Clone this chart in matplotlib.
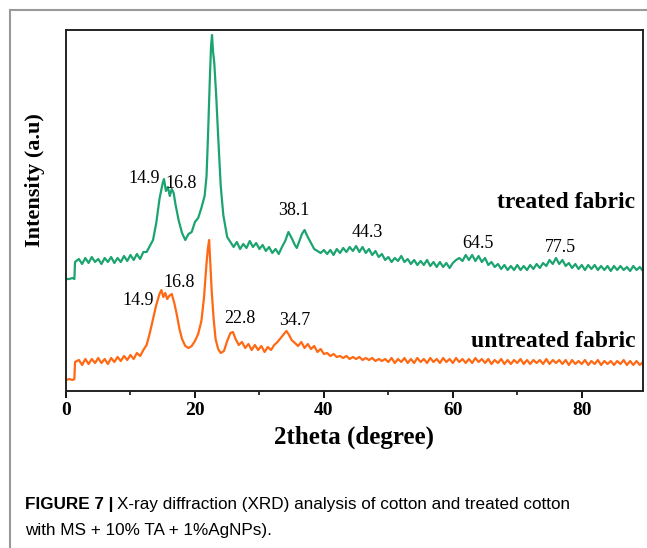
import matplotlib
matplotlib.use('Agg')
import matplotlib.pyplot as plt
from matplotlib.lines import Line2D
from matplotlib.ticker import MultipleLocator

#Setting fonts
serif = 'Liberation Serif'
sans = 'Liberation Sans'

#Diffraction data read from the pattern (intensity in arbitrary units).
#Low angle part, sampled finer around the peaks.
treated_head_2theta = [0.0, 0.5, 1.0, 1.3, 1.4, 2.0, 2.5, 3.0, 3.5, 4.0,
	4.5, 5.0, 5.5, 6.0, 6.5, 7.0, 7.5, 8.0, 8.5, 9.0,
	9.5, 10.0, 10.5, 11.0, 11.5, 12.0, 12.5, 13.0, 13.5, 14.0,
	14.5, 15.0, 15.2, 15.5, 15.8, 16.1, 16.4, 16.7, 17.0, 17.5,
	18.0, 18.5, 19.0, 19.5, 20.0, 20.5, 21.0, 21.5, 21.8, 22.0,
	22.3, 22.5, 22.65, 22.8, 23.0, 23.3, 23.6, 24.0, 24.4, 25.0,
	25.5, 26.0, 26.5, 27.0, 27.5, 28.0, 28.5, 29.0, 29.5, 30.0,
	30.5, 31.0, 31.5, 32.0, 32.5, 33.0, 33.5, 34.0, 34.5, 35.0,
	35.5, 35.8, 36.2, 36.6, 37.0, 37.5, 38.0, 38.5, 39.0, 39.5]
treated_head = [112, 112, 113, 112, 129, 132, 127, 133, 128, 134,
	129, 132, 127, 133, 129, 134, 128, 133, 129, 135,
	130, 136, 131, 137, 132, 139, 139, 145, 151, 168,
	192, 208, 212, 200, 204, 195, 202, 198, 186, 170,
	158, 151, 157, 159, 169, 173, 183, 195, 215, 250,
	310, 345, 356, 340, 328, 295, 255, 205, 176, 154,
	149, 144, 149, 142, 147, 143, 150, 144, 148, 142,
	146, 140, 144, 138, 142, 137, 144, 150, 159, 153,
	146, 143, 150, 157, 161, 154, 148, 142, 140, 138]

untreated_head_2theta = [0.0, 0.5, 1.0, 1.3, 1.4, 2.0, 2.5, 3.0, 3.5, 4.0,
	4.5, 5.0, 5.5, 6.0, 6.5, 7.0, 7.5, 8.0, 8.5, 9.0,
	9.5, 10.0, 10.5, 11.0, 11.5, 12.0, 12.5, 13.0, 13.5, 14.0,
	14.5, 14.8, 15.1, 15.4, 15.7, 16.0, 16.4, 16.8, 17.2, 17.6,
	18.0, 18.5, 19.0, 19.5, 20.0, 20.5, 21.0, 21.4, 21.8, 22.0,
	22.2, 22.4, 22.6, 22.9, 23.2, 23.6, 24.0, 24.5, 25.0, 25.5,
	25.9, 26.3, 26.8, 27.3, 27.8, 28.3, 28.8, 29.3, 29.8, 30.3,
	30.8, 31.3, 31.8, 32.3, 32.8, 33.3, 33.8, 34.2, 34.6, 35.0,
	35.5, 36.0, 36.5, 37.0, 37.5, 38.0, 38.5, 39.0, 39.5]
untreated_head = [11, 12, 11, 12, 29, 31, 26, 32, 27, 32,
	28, 33, 28, 32, 27, 33, 29, 34, 30, 35,
	31, 36, 32, 38, 35, 41, 46, 58, 72, 86,
	97, 101, 94, 98, 92, 95, 97, 88, 76, 62,
	52, 45, 43, 45, 50, 57, 70, 93, 128, 142,
	151, 125, 100, 72, 52, 42, 38, 40, 50, 58,
	59, 52, 46, 49, 43, 47, 41, 46, 41, 45,
	39, 44, 41, 46, 49, 53, 57, 60, 56, 51,
	48, 45, 49, 43, 47, 42, 45, 39, 42]

#High angle part, same sampling for both fabrics.
tail_2theta = [40.0, 40.5, 41.0, 41.5, 42.0, 42.5, 43.0, 43.5, 44.0, 44.5,
	45.0, 45.5, 46.0, 46.5, 47.0, 47.5, 48.0, 48.5, 49.0, 49.5,
	50.0, 50.5, 51.0, 51.5, 52.0, 52.5, 53.0, 53.5, 54.0, 54.5,
	55.0, 55.5, 56.0, 56.5, 57.0, 57.5, 58.0, 58.5, 59.0, 59.5,
	60.0, 60.5, 61.0, 61.5, 62.0, 62.5, 63.0, 63.5, 64.0, 64.5,
	65.0, 65.5, 66.0, 66.5, 67.0, 67.5, 68.0, 68.5, 69.0, 69.5,
	70.0, 70.5, 71.0, 71.5, 72.0, 72.5, 73.0, 73.5, 74.0, 74.5,
	75.0, 75.5, 76.0, 76.5, 77.0, 77.5, 78.0, 78.5, 79.0, 79.5,
	80.0, 80.5, 81.0, 81.5, 82.0, 82.5, 83.0, 83.5, 84.0, 84.5,
	85.0, 85.5, 86.0, 86.5, 87.0, 87.5, 88.0, 88.5, 89.0, 89.5]
treated_tail = [141, 137, 141, 136, 142, 138, 143, 139, 144, 140,
	145, 139, 144, 138, 142, 136, 140, 134, 137, 131,
	134, 129, 133, 130, 135, 129, 132, 127, 131, 126,
	130, 126, 131, 125, 129, 124, 129, 124, 128, 123,
	128, 131, 133, 130, 136, 131, 136, 130, 135, 129,
	133, 126, 129, 124, 127, 122, 126, 121, 125, 121,
	126, 121, 125, 121, 126, 122, 127, 123, 128, 125,
	131, 127, 133, 127, 131, 125, 128, 123, 127, 122,
	126, 121, 126, 122, 126, 121, 125, 121, 125, 120,
	125, 121, 125, 121, 124, 120, 125, 121, 124, 120]
untreated_tail = [37, 38, 35, 37, 34, 35, 33, 35, 32, 34,
	32, 34, 31, 33, 31, 33, 30, 32, 30, 32,
	29, 33, 28, 32, 29, 33, 28, 32, 28, 33,
	29, 32, 28, 33, 29, 32, 28, 33, 29, 32,
	28, 33, 29, 32, 28, 32, 28, 33, 29, 32,
	28, 32, 27, 31, 28, 32, 27, 31, 27, 31,
	28, 32, 27, 31, 27, 31, 28, 31, 27, 32,
	27, 31, 28, 31, 27, 31, 26, 31, 27, 30,
	27, 31, 26, 30, 27, 31, 26, 30, 27, 30,
	26, 30, 27, 31, 26, 30, 26, 30, 26, 29]

treated_peaks = ['14.9', '16.8', '38.1', '44.3', '64.5', '77.5']
untreated_peaks = ['14.9', '16.8', '22.8', '34.7']

treated_2theta = treated_head_2theta + tail_2theta
treated_I = treated_head + treated_tail
untreated_2theta = untreated_head_2theta + tail_2theta
untreated_I = untreated_head + untreated_tail

green = '#1ca470'
orange = '#ff6914'

#Label anchor points (2theta, intensity), drawn centred on the baseline.
treated_label_xy = [(12.1, 208), (17.8, 203), (35.3, 176), (46.8, 154), (63.9, 143), (76.7, 139)]
untreated_label_xy = [(11.2, 86), (17.5, 104), (27.0, 68), (35.5, 66)]

fig = plt.figure(figsize=(6.47, 5.48), dpi=100, facecolor='w')
ax = fig.add_axes([66/647., 1-391/548., 577/647., 361/548.])

ax.plot(treated_2theta, treated_I, color=green, lw=1.6)
ax.plot(untreated_2theta, untreated_I, color=orange, lw=1.6)

for lab, (x, y) in zip(treated_peaks, treated_label_xy):
	ax.text(x, y, lab, ha='center', va='baseline', family=serif, fontsize=13)
for lab, (x, y) in zip(untreated_peaks, untreated_label_xy):
	ax.text(x, y, lab, ha='center', va='baseline', family=serif, fontsize=13)

ax.text(88.3, 183, 'treated fabric', ha='right', va='baseline', family=serif, fontsize=17, fontweight='bold')
ax.text(88.3, 44, 'untreated fabric', ha='right', va='baseline', family=serif, fontsize=17, fontweight='bold')

ax.set_xlim(0, 89.5)
ax.set_ylim(0, 361)
ax.set_yticks([])
ax.xaxis.set_major_locator(MultipleLocator(20))
ax.xaxis.set_minor_locator(MultipleLocator(10))
ax.tick_params(axis='x', which='major', direction='out', length=5, width=1.3, pad=3)
ax.tick_params(axis='x', which='minor', direction='out', length=3, width=1.1)
for lbl in ax.get_xticklabels():
	lbl.set_family(serif)
	lbl.set_fontweight('bold')
	lbl.set_fontsize(14)
for sp in ax.spines.values():
	sp.set_linewidth(1.4)
	sp.set_color('#222222')

ax.set_xlabel('2theta (degree)', family=serif, fontweight='bold', fontsize=18, labelpad=5)
ax.set_ylabel('Intensity (a.u)', family=serif, fontweight='bold', fontsize=16)
ax.yaxis.set_label_coords(-0.036, 0.584)

#Outer panel border (top and left edges only are visible).
fig.add_artist(Line2D([10/647., 10/647.], [0, 1-10/548.], transform=fig.transFigure, color='#999999', lw=1.5))
fig.add_artist(Line2D([10/647., 1], [1-10/548., 1-10/548.], transform=fig.transFigure, color='#999999', lw=1.5))

#Caption
t1 = fig.text(25/647., 1-505/548., 'FIGURE 7 |', family=sans, fontweight='bold', fontsize=12.3, va='center')
fig.canvas.draw()
bb = t1.get_window_extent(renderer=fig.canvas.get_renderer())
fig.text((bb.x1+4)/647., 1-505/548., 'X-ray diffraction (XRD) analysis of cotton and treated cotton', family=sans, fontsize=12.3, va='center')
fig.text(25/647., 1-530/548., 'with MS + 10% TA + 1%AgNPs).', family=sans, fontsize=12.3, va='center')

fig.savefig('out.png', dpi=100)
